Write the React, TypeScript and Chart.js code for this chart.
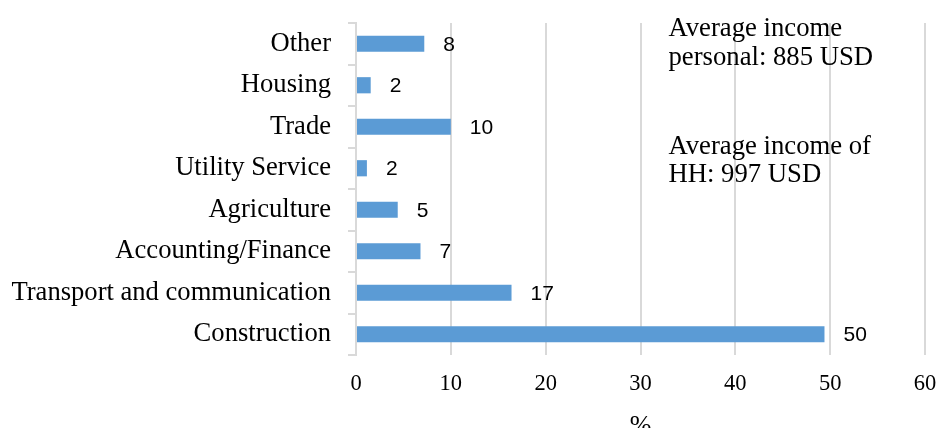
import React, { useEffect, useRef } from "react";
import { Chart, registerables } from "chart.js";

Chart.register(...registerables);

const categories = [
  "Other",
  "Housing",
  "Trade",
  "Utility Service",
  "Agriculture",
  "Accounting/Finance",
  "Transport and communication",
  "Construction",
];
const values = [7.2, 1.55, 10.0, 1.15, 4.4, 6.8, 16.4, 49.4];
const valueLabels = ["8", "2", "10", "2", "5", "7", "17", "50"];
const xTicks = [0, 10, 20, 30, 40, 50, 60];
const noteLines1 = ["Average income", "personal: 885 USD"];
const noteLines2 = ["Average income of", "HH: 997 USD"];
const axisTitle = "%";

const SERIF = "'Liberation Serif', 'Times New Roman', serif";
const SANS = "'Liberation Sans', Arial, sans-serif";

export default function App() {
  const ref = useRef<HTMLCanvasElement | null>(null);

  useEffect(() => {
    if (!ref.current) return;
    const labelPlugin = {
      id: "extras",
      afterDatasetsDraw(chart: any) {
        const ctx = chart.ctx;
        const meta = chart.getDatasetMeta(0);
        ctx.save();
        ctx.font = `21px ${SANS}`;
        ctx.fillStyle = "#000";
        ctx.textAlign = "left";
        ctx.textBaseline = "middle";
        meta.data.forEach((bar: any, i: number) => {
          ctx.fillText(valueLabels[i], bar.x + 19, bar.y + 1);
        });
        ctx.font = `26.7px ${SERIF}`;
        ctx.textBaseline = "alphabetic";
        const xs = chart.scales.x.getPixelForValue(32.95);
        noteLines1.forEach((t, i) => ctx.fillText(t, xs, 36 + i * 29));
        noteLines2.forEach((t, i) => ctx.fillText(t, xs, 154 + i * 28));
        ctx.restore();
      },
    };

    const chart = new Chart(ref.current, {
      type: "bar",
      data: {
        labels: categories,
        datasets: [
          {
            data: values,
            backgroundColor: "#5B9BD5",
            borderWidth: 0,
            barPercentage: 0.39,
            categoryPercentage: 1,
          },
        ],
      },
      options: {
        indexAxis: "y",
        responsive: false,
        animation: false,
        layout: { padding: { top: 23, right: 14, left: 0, bottom: 0 } },
        plugins: {
          legend: { display: false },
          tooltip: { enabled: false },
        },
        scales: {
          x: {
            min: 0,
            max: 60,
            afterBuildTicks(scale: any) {
              scale.ticks = xTicks.map((v) => ({ value: v }));
            },
            afterFit(scale: any) {
              scale.height = 73;
              scale.paddingLeft = 0;
              scale.paddingRight = 0;
            },
            grid: {
              color: "#d9d9d9",
              lineWidth: 2,
              drawTicks: false,
            },
            border: { display: false },
            ticks: {
              color: "#000",
              padding: 16,
              font: { family: SERIF, size: 22.5 },
            },
            title: {
              display: true,
              text: axisTitle,
              color: "#000",
              font: { family: SERIF, size: 26 },
              padding: { top: 0, bottom: -14 },
            },
          },
          y: {
            afterFit(scale: any) {
              scale.width = 356;
              scale.paddingTop = 0;
              scale.paddingBottom = 0;
            },
            grid: {
              display: true,
              drawOnChartArea: false,
              drawTicks: true,
              tickLength: 8,
              color: "#d9d9d9",
              lineWidth: 2,
            },
            border: { display: true, color: "#d9d9d9", width: 2 },
            ticks: {
              color: "#000",
              padding: 17,
              font: { family: SERIF, size: 26.6 },
            },
          },
        },
      },
      plugins: [labelPlugin],
    } as any);
    return () => chart.destroy();
  }, []);

  return (
    <div style={{ position: "fixed", left: 0, top: 0, width: 939, height: 428, background: "#fff" }}>
      <canvas ref={ref} width={939} height={428} style={{ display: "block" }} />
    </div>
  );
}
